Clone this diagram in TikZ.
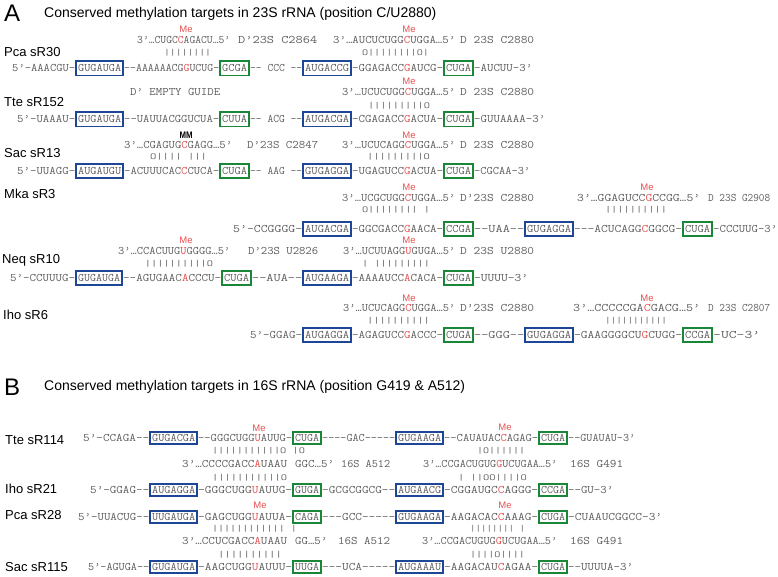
\documentclass[tikz,border=0pt]{standalone}
\usepackage{fontspec}
\usepackage{graphicx}
\newfontfamily\arialf{Liberation Sans}
\definecolor{seqgray}{RGB}{95,95,95}
\definecolor{mered}{RGB}{232,80,80}
\definecolor{boxblue}{RGB}{30,70,150}
\definecolor{boxgreen}{RGB}{25,135,55}
\newcounter{nn}
\newcommand\rd[1]{\textcolor{mered}{#1}}
\newcommand\seqf{\ttfamily\fontsize{11.5}{12}\selectfont}
\tikzset{
 seq/.style={font={\seqf}, text=seqgray, inner sep=0pt, anchor=base west},
 bars/.style={font={\seqf}, text=seqgray, inner sep=0pt, anchor=center},
 lab/.style={font={\arialf\fontsize{13}{15}\selectfont}, text=black, inner sep=0pt, anchor=base west},
 me/.style={font={\arialf\fontsize{9.5}{11}\selectfont}, text=mered, inner sep=0pt, anchor=center},
 bbox/.style={draw=boxblue, line width=1.8pt, inner sep=0pt},
 gbox/.style={draw=boxgreen, line width=1.8pt, inner sep=0pt},
 ttl/.style={font={\arialf\fontsize{14}{16}\selectfont}, inner sep=0pt, anchor=base west},
 big/.style={font={\arialf\fontsize{24}{26}\selectfont}, inner sep=0pt, anchor=base west},
}
\newcommand\T[4]{\stepcounter{nn}\pgfmathsetlengthmacro\segw{(#2)-(#1)}%
 \node[seq] (t\arabic{nn}) at ({#1},{#3+3.5}) {\resizebox{\segw}{\height}{#4}};}
\newcommand\Br[4]{\stepcounter{nn}\pgfmathsetlengthmacro\segw{(#2)-(#1)}%
 \node[bars] (r\arabic{nn}) at ({(#1+#2)/2},{#3}) {\resizebox*{\segw}{7pt}{#4}};}
\newcommand\Bx[6]{\stepcounter{nn}%
 \node[#6, minimum width={#2-#1-1.8}, minimum height={#4}] (b\arabic{nn}) at ({(#1+#2)/2},{#3}) {};%
 \T{#1+3}{#2-3}{#3}{#5}}
\newcommand\BA[5]{\Bx{#1}{#2}{#3}{14.2}{#4}{#5}}
\newcommand\BB[5]{\Bx{#1}{#2}{#3}{12.2}{#4}{#5}}
\newcommand\Me[2]{\stepcounter{nn}\node[me] (m\arabic{nn}) at (#1,{#2-1}) {Me};}
\newcommand\MM[2]{\stepcounter{nn}\node[inner sep=0pt] (m\arabic{nn}) at (#1,{#2-1}) {\resizebox{13pt}{6.5pt}{\arialf\bfseries MM}};}
\newcommand\Lab[3]{\stepcounter{nn}\node[lab] (l\arabic{nn}) at (#1,{#2+4.7}) {#3};}
\begin{document}
\begin{tikzpicture}[x=1pt,y=-1pt]
\fill[white] (0,0) rectangle (778,577);
\useasboundingbox (0,0) rectangle (778,577);
% ---------------- A
\node[big] (hA) at (4,22) {A};
\node[ttl] (titleA) at (44,18) {Conserved methylation targets in 23S rRNA (position C/U2880)};
% Pca sR30
\Lab{4}{52}{Pca sR30}
\Me{186}{30}\Me{409}{30}
\T{137}{230}{40}{3’…CUGC\rd{C}AGACU…5’}
\T{238}{317}{40}{D’23S C2864}
\T{333}{455}{40}{3’…AUCUCUGG\rd{C}UGGA…5’}
\T{460}{534}{40}{D 23S C2880}
\Br{164}{211}{52.5}{||||||||}
\Br{362}{429}{52.5}{O||||||||O|}
\T{12}{75}{68.5}{5’-AAACGU-}
\BA{75}{124}{68.5}{GUGAUGA}{bbox}
\T{124}{219}{68.5}{--AAAAAACG\rd{G}UCUG-}
\BA{219}{250}{68.5}{GCGA}{gbox}
\T{250}{302}{68.5}{-- CCC --}
\BA{302}{352}{68.5}{AUGACCG}{bbox}
\T{352}{443}{68.5}{-GGAGACC\rd{G}AUCG-}
\BA{443}{474}{68.5}{CUGA}{gbox}
\T{474}{532}{68.5}{-AUCUU-3’}
% Tte sR152
\Lab{4}{102}{Tte sR152}
\Me{409}{82.5}
\T{130}{220}{92}{D’ EMPTY GUIDE}
\T{342}{455}{92}{3’…UCUCUGG\rd{C}UGGA…5’}
\T{460}{534}{92}{D 23S C2880}
\Br{368}{430}{105.5}{|||||||||O}
\T{17}{75}{119.5}{5’-UAAAU-}
\BA{75}{124}{119.5}{GUGAUGA}{bbox}
\T{124}{219}{119.5}{--UAUUACGGUCUA-}
\BA{219}{250}{119.5}{CUUA}{gbox}
\T{250}{302}{119.5}{-- ACG --}
\BA{302}{352}{119.5}{AUGACGA}{bbox}
\T{352}{443}{119.5}{-CGAGACC\rd{G}ACUA-}
\BA{443}{474}{119.5}{CUGA}{gbox}
\T{474}{545}{119.5}{-GUUAAAA-3’}
% Sac sR13
\Lab{4}{153}{Sac sR13}
\MM{186}{136}\Me{409}{136.5}
\T{124}{232}{145.5}{3’…CGAGUG\rd{C}GAGG…5’}
\T{247}{318}{145.5}{D’23S C2847}
\T{342}{455}{145.5}{3’…UCUCAGG\rd{C}UGGA…5’}
\T{460}{534}{145.5}{D 23S C2880}
\Br{150}{207}{157}{O|||| |||}
\Br{367}{430}{157}{|||||||||O}
\T{17}{75}{171}{5’-UUAGG-}
\BA{75}{124}{171}{AUGAUGU}{bbox}
\T{124}{219}{171}{-ACUUUCAC\rd{C}CUCA-}
\BA{219}{250}{171}{CUGA}{gbox}
\T{250}{302}{171}{-- AAG --}
\BA{302}{352}{171}{GUGAGGA}{bbox}
\T{352}{443}{171}{-UGAGUCC\rd{G}ACUA-}
\BA{443}{474}{171}{CUGA}{gbox}
\T{474}{530}{171}{-CGCAA-3’}
% Mka sR3
\Lab{4}{194}{Mka sR3}
\Me{409}{188.5}\Me{647}{188.5}
\T{342}{455}{198.5}{3’…UCGCUGG\rd{C}UGGA…5’}
\T{460}{534}{198.5}{D’23S C2880}
\T{577}{700}{198.5}{3’…GGAGUCC\rd{G}CCGG…5’}
\T{708}{770}{198.5}{D 23S G2908}
\Br{362}{430}{209.5}{O|||||||| |}
\Br{605}{667}{209.5}{||||||||||}
\T{233}{302}{229}{5’-CCGGGG-}
\BA{302}{352}{229}{AUGACGA}{bbox}
\T{352}{443}{229}{-GGCGACC\rd{G}AACA-}
\BA{443}{474}{229}{CCGA}{gbox}
\T{474}{524}{229}{--UAA--}
\BA{524}{574}{229}{GUGAGGA}{bbox}
\T{574}{682}{229}{---ACUCAGG\rd{C}GGCG-}
\BA{682}{713}{229}{CUGA}{gbox}
\T{713}{777}{229}{-CCCUUG-3’}
% Neq sR10
\Lab{2}{259}{Neq sR10}
\Me{186}{241}\Me{409}{241}
\T{118}{230}{251}{3’…CCACUUG\rd{U}GGGG…5’}
\T{248}{318}{251}{D’23S U2826}
\T{343}{455}{251}{3’…UCUUAGG\rd{U}GUGA…5’}
\T{460}{534}{251}{D 23S U2880}
\Br{145}{213}{264}{||||||||||O}
\Br{362}{430}{264}{| |||||||||}
\T{10}{75}{278}{5’-CCUUUG-}
\BA{75}{123}{278}{GUGAUGA}{bbox}
\T{123}{221}{278}{--AGUGAAC\rd{A}CCCU-}
\BA{221}{252}{278}{CUGA}{gbox}
\T{252}{302}{278}{--AUA--}
\BA{302}{352}{278}{AUGAAGA}{bbox}
\T{352}{443}{278}{-AAAAUCC\rd{A}CACA-}
\BA{443}{474}{278}{CUGA}{gbox}
\T{474}{528}{278}{-UUUU-3’}
% Iho sR6
\Lab{3}{315}{Iho sR6}
\Me{409}{299}\Me{647}{299}
\T{343}{455}{308}{3’…UCUCAGG\rd{C}UGGA…5’}
\T{460}{534}{308}{D’23S C2880}
\T{573}{700}{308}{3’…CCCCCGA\rd{C}GACG…5’}
\T{708}{770}{308}{D 23S C2807}
\Br{367}{430}{321}{||||||||||}
\Br{605}{667}{321}{|||||||||||}
\T{250}{302}{335}{5’-GGAG-}
\BA{302}{352}{335}{AUGAGGA}{bbox}
\T{352}{443}{335}{-AGAGUCC\rd{G}ACCC-}
\BA{443}{474}{335}{CUGA}{gbox}
\T{474}{524}{335}{--GGG--}
\BA{524}{574}{335}{GUGAGGA}{bbox}
\T{574}{682}{335}{-GAAGGGGCU\rd{G}CUGG-}
\BA{682}{713}{335}{CCGA}{gbox}
\T{713}{760}{335}{-UC-3’}
% ---------------- B
\node[big] (hB) at (4,395) {B};
\node[ttl] (titleB) at (44,390) {Conserved methylation targets in 16S rRNA (position G419 \& A512)};
% Tte sR114
\Lab{5}{440}{Tte sR114}
\Me{259}{429}\Me{505}{428}
\T{83}{149}{438}{5’-CCAGA--}
\BB{149}{198}{438}{GUGACGA}{bbox}
\T{198}{292}{438}{--GGGCUGG\rd{U}AUUG-}
\BB{292}{322}{438}{CUGA}{gbox}
\T{322}{395}{438}{----GAC-----}
\BB{395}{444}{438}{GUGAAGA}{bbox}
\T{444}{538}{438}{--CAUAUAC\rd{C}AGAG-}
\BB{538}{568}{438}{CUGA}{gbox}
\T{568}{635}{438}{--GUAUAU-3’}
\Br{212}{305}{451}{|||||||||||O |O}
\Br{477}{525}{451}{|O||||||}
\T{182}{287}{464}{3’…CCCCGACC\rd{A}UAAU}
\T{295}{334}{464}{GGC…5’}
\T{341}{390}{464}{16S A512}
\T{423}{557}{464}{3’…CCGACUGUG\rd{G}UCUGAA…5’}
\T{570}{623}{464}{16S G491}
\Br{212}{287}{478}{|||||||||||O}
\Br{458}{527}{478}{| ||OO||||O}
% Iho sR21
\Lab{5}{489}{Iho sR21}
\T{90}{149}{490}{5’-GGAG--}
\BB{149}{198}{490}{AUGAGGA}{bbox}
\T{198}{292}{490}{-GGGCUGG\rd{U}AUUG-}
\BB{292}{322}{490}{GUGA}{gbox}
\T{322}{395}{490}{-GCGCGGCG--}
\BB{395}{444}{490}{AUGAACG}{bbox}
\T{444}{538}{490}{-CGGAUGC\rd{C}AGGG-}
\BB{538}{568}{490}{CCGA}{gbox}
\T{568}{613}{490}{--GU-3’}
% Pca sR28
\Lab{5}{515}{Pca sR28}
\Me{260}{506}\Me{505}{506}
\T{78}{149}{517}{5’-UUACUG--}
\BB{149}{198}{517}{UUGAUGA}{bbox}
\T{198}{292}{517}{-GAGCUGG\rd{U}AUUA-}
\BB{292}{322}{517}{CAGA}{gbox}
\T{322}{395}{517}{---GCC-----}
\BB{395}{444}{517}{GUGAAGA}{bbox}
\T{444}{538}{517}{-AAGACAC\rd{C}AAAG-}
\BB{538}{568}{517}{CUGA}{gbox}
\T{568}{662}{517}{-CUAAUCGGCC-3’}
\Br{212}{297}{528.5}{|||||||||||| |}
\Br{470}{525}{528.5}{|||||||| |}
\T{182}{287}{541}{3’…CCUCGACC\rd{A}UAAU}
\T{295}{327}{541}{GG…5’}
\T{338}{390}{541}{16S A512}
\T{422}{557}{541}{3’…CCGACUGUG\rd{G}UCUGAA…5’}
\T{570}{623}{541}{16S G491}
\Br{218}{282}{555}{||||||||||}
\Br{470}{525}{555}{||||O||||}
% Sac sR115
\Lab{5}{567}{Sac sR115}
\T{88}{149}{567}{5’-AGUGA--}
\BB{149}{198}{567}{GUGAUGA}{bbox}
\T{198}{292}{567}{-AAGCUGG\rd{U}AUUU-}
\BB{292}{322}{567}{UUGA}{gbox}
\T{322}{395}{567}{---UCA-----}
\BB{395}{444}{567}{AUGAAAU}{bbox}
\T{444}{538}{567}{-AAGACAU\rd{C}AGAA-}
\BB{538}{568}{567}{CUGA}{gbox}
\T{568}{633}{567}{--UUUUA-3’}
\end{tikzpicture}
\end{document}
